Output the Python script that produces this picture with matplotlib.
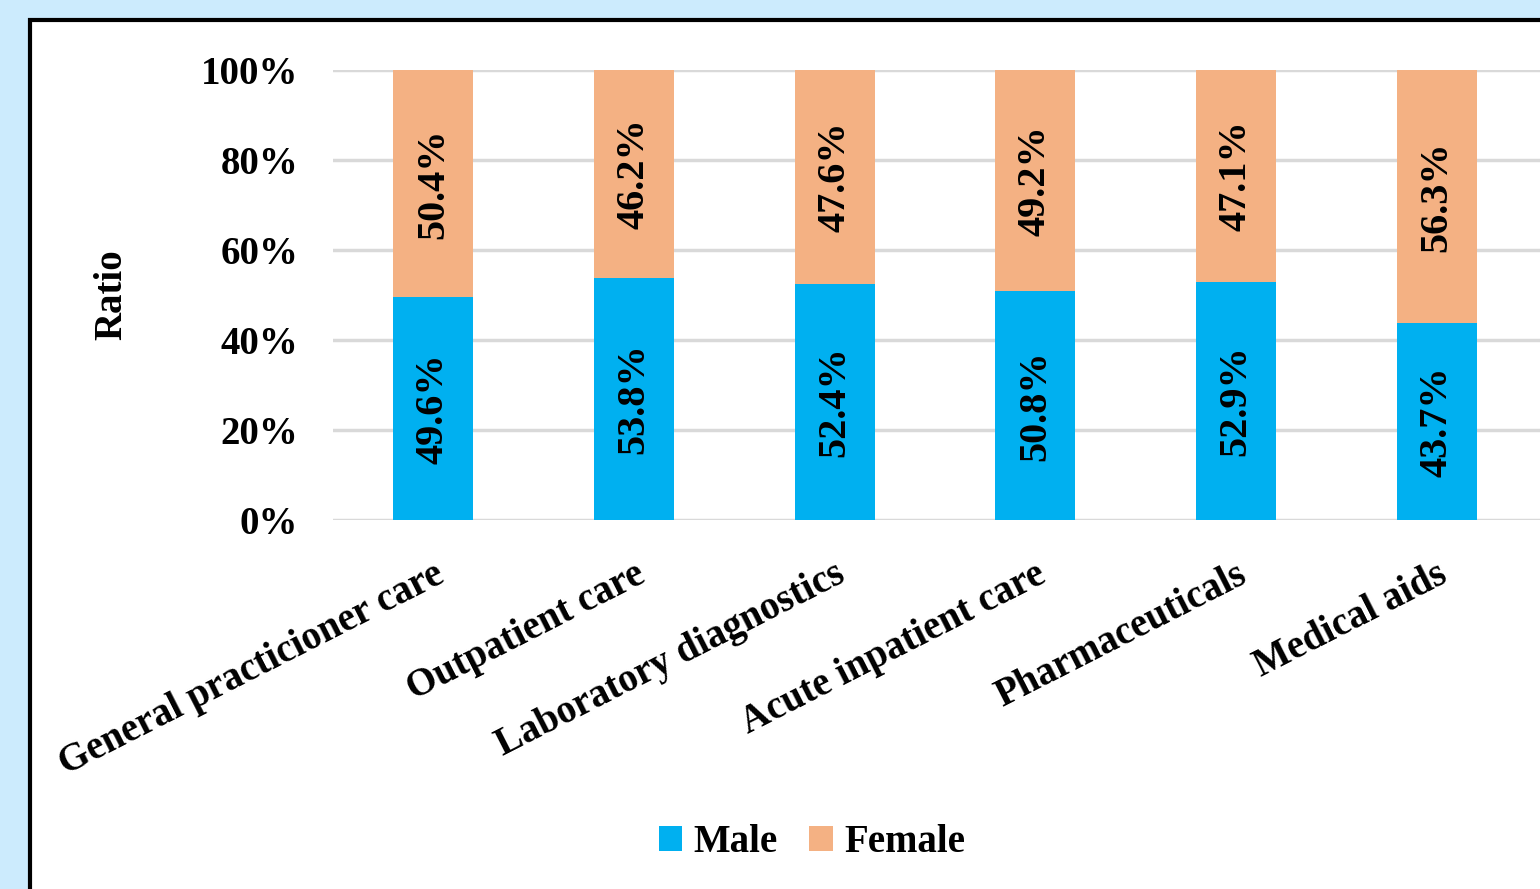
import matplotlib
matplotlib.use("Agg")
import matplotlib.pyplot as plt
from matplotlib.patches import Rectangle
import numpy as np

categories = ["General practicioner care", "Outpatient care", "Laboratory diagnostics",
              "Acute inpatient care", "Pharmaceuticals", "Medical aids"]
male = [49.6, 53.8, 52.4, 50.8, 52.9, 43.7]
female = [50.4, 46.2, 47.6, 49.2, 47.1, 56.3]
yticks = [0, 20, 40, 60, 80, 100]

plt.rcParams['font.family'] = ['Liberation Serif', 'DejaVu Serif']
plt.rcParams['font.weight'] = 'bold'

fig = plt.figure(figsize=(15.4, 8.89), dpi=100)
fig.patch.set_facecolor('#CCEBFD')

## white panel with black frame, running off right and bottom edges
fig.patches.append(Rectangle((30 / 1540, -0.05), 1.1, 1 - 20 / 889 + 0.05,
                             transform=fig.transFigure, facecolor='white',
                             edgecolor='black', linewidth=3, zorder=-5))

ax = fig.add_axes([333 / 1540, 369 / 889, 1207 / 1540, 450 / 889])
ax.set_facecolor('none')

x = np.arange(len(categories))
ax.bar(x, male, width=0.4, color='#00B0F0', label='Male', zorder=2)
ax.bar(x, female, width=0.4, bottom=male, color='#F4B183', label='Female', zorder=2)

for i in range(len(categories)):
    ax.text(x[i], male[i] / 2, f"{male[i]:.1f}%", rotation=90, ha='center', va='center',
            fontsize=29, fontweight='bold', zorder=3)
    ax.text(x[i], male[i] + female[i] / 2, f"{female[i]:.1f}%", rotation=90, ha='center',
            va='center', fontsize=29, fontweight='bold', zorder=3)

ax.set_xlim(-0.5, 5.515)
ax.set_ylim(0, 100)
ax.set_yticks(yticks)
ax.set_yticklabels([f"{v}%" for v in yticks], fontsize=28, fontweight='bold')
ax.yaxis.grid(True, color='#D9D9D9', linewidth=2.5, zorder=1)
ax.set_axisbelow(True)
for s in ax.spines.values():
    s.set_visible(False)
ax.tick_params(axis='y', length=0, pad=25)
ax.tick_params(axis='x', length=0, pad=26)
ax.set_xticks(x)
ax.set_xticklabels(categories, rotation=27, ha='right', rotation_mode='anchor',
                   fontsize=28, fontweight='bold')
for lbl in ax.get_xticklabels():
    lbl.set_x(lbl.get_position()[0])
ax.set_ylabel('Ratio', fontsize=28, fontweight='bold', labelpad=51)

fig.legend(loc='center', bbox_to_anchor=(812 / 1540, 1 - 843 / 889), ncol=2,
           frameon=False, fontsize=28, handlelength=0.6, handleheight=0.6,
           handletextpad=0.3, columnspacing=0.8)

fig.savefig('out.png', dpi=100, facecolor=fig.get_facecolor())
